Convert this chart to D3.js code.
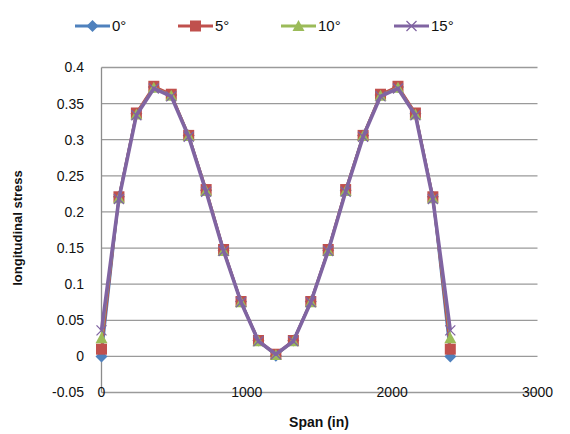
<!DOCTYPE html>
<html>
<head>
<meta charset="utf-8">
<script src="https://cdn.jsdelivr.net/npm/d3@7"></script>
<style>
  html, body { margin: 0; padding: 0; background: #fff; }
  svg { display: block; font-family: "Liberation Sans", "DejaVu Sans", sans-serif; }
</style>
</head>
<body>
<svg id="chart" width="570" height="434"></svg>
<script>
// Span positions along the member (in)
const span = [0, 120, 240, 360, 480, 600, 720, 840, 960, 1080, 1200,
              1320, 1440, 1560, 1680, 1800, 1920, 2040, 2160, 2280, 2400];

// Longitudinal stress for each skew angle
const stress0  = [0.000, 0.221, 0.336, 0.373, 0.362, 0.306, 0.230, 0.147, 0.076, 0.022, 0.001,
                  0.022, 0.076, 0.147, 0.230, 0.306, 0.362, 0.373, 0.336, 0.221, 0.000];
const stress5  = [0.010, 0.221, 0.337, 0.374, 0.363, 0.306, 0.231, 0.148, 0.076, 0.022, 0.003,
                  0.022, 0.076, 0.148, 0.231, 0.306, 0.363, 0.374, 0.337, 0.221, 0.010];
const stress10 = [0.025, 0.219, 0.335, 0.372, 0.361, 0.305, 0.229, 0.146, 0.075, 0.021, 0.002,
                  0.021, 0.075, 0.146, 0.229, 0.305, 0.361, 0.372, 0.335, 0.219, 0.025];
const stress15 = [0.036, 0.218, 0.334, 0.371, 0.360, 0.304, 0.228, 0.146, 0.075, 0.021, 0.003,
                  0.021, 0.075, 0.146, 0.228, 0.304, 0.360, 0.371, 0.334, 0.218, 0.036];

const seriesNames = ["0\u00B0", "5\u00B0", "10\u00B0", "15\u00B0"];
const seriesColors = ["#4F81BD", "#C0504D", "#9BBB59", "#8064A2"];
const seriesShapes = ["diamond", "square", "triangle", "cross"];
const seriesValues = [stress0, stress5, stress10, stress15];

const xTicks = [0, 1000, 2000, 3000];
const yTicks = [-0.05, 0, 0.05, 0.1, 0.15, 0.2, 0.25, 0.3, 0.35, 0.4];
const yTickLabels = ["-0.05", "0", "0.05", "0.1", "0.15", "0.2", "0.25", "0.3", "0.35", "0.4"];

const svg = d3.select("#chart");

const x = d3.scaleLinear().domain([0, 3000]).range([101.5, 537.5]);
const y = d3.scaleLinear().domain([-0.05, 0.4]).range([392.5, 67.5]);

// Horizontal gridlines
svg.append("g")
  .selectAll("line")
  .data(yTicks)
  .join("line")
  .attr("x1", x(0)).attr("x2", x(3000))
  .attr("y1", d => y(d)).attr("y2", d => y(d))
  .attr("stroke", "#9a9a9a")
  .attr("stroke-width", 1.3);

// Vertical axis line
svg.append("line")
  .attr("x1", x(0)).attr("x2", x(0))
  .attr("y1", y(0.4)).attr("y2", y(-0.05))
  .attr("stroke", "#8c8c8c").attr("stroke-width", 1.3);

// Y tick labels
svg.append("g")
  .selectAll("text")
  .data(yTicks)
  .join("text")
  .attr("x", 84)
  .attr("y", d => y(d))
  .attr("dy", "0.35em")
  .attr("text-anchor", "end")
  .attr("font-size", 14)
  .attr("fill", "#111")
  .text((d, i) => yTickLabels[i]);

// X tick labels (sitting on the bottom axis line)
svg.append("g")
  .selectAll("text")
  .data(xTicks)
  .join("text")
  .attr("x", d => x(d))
  .attr("y", y(-0.05))
  .attr("dy", "0.35em")
  .attr("text-anchor", "middle")
  .attr("font-size", 14)
  .attr("fill", "#111")
  .text(d => d);

// Axis titles
svg.append("text")
  .attr("x", 319).attr("y", 427)
  .attr("text-anchor", "middle")
  .attr("font-size", 14).attr("font-weight", "bold")
  .attr("fill", "#111")
  .text("Span (in)");

svg.append("text")
  .attr("transform", "translate(22,228) rotate(-90)")
  .attr("text-anchor", "middle")
  .attr("font-size", 13).attr("font-weight", "bold")
  .attr("fill", "#111")
  .text("longitudinal stress");

// Marker drawing
function drawMarker(g, shape, color, cx, cy) {
  if (shape === "diamond") {
    g.append("path")
      .attr("d", `M${cx},${cy - 6}L${cx + 6},${cy}L${cx},${cy + 6}L${cx - 6},${cy}Z`)
      .attr("fill", color);
  } else if (shape === "square") {
    g.append("rect")
      .attr("x", cx - 5.5).attr("y", cy - 5.5)
      .attr("width", 11).attr("height", 11)
      .attr("fill", color);
  } else if (shape === "triangle") {
    g.append("path")
      .attr("d", `M${cx},${cy - 6}L${cx + 6},${cy + 5}L${cx - 6},${cy + 5}Z`)
      .attr("fill", color);
  } else if (shape === "cross") {
    g.append("path")
      .attr("d", `M${cx - 5},${cy - 5}L${cx + 5},${cy + 5}M${cx - 5},${cy + 5}L${cx + 5},${cy - 5}`)
      .attr("stroke", color).attr("stroke-width", 1.3).attr("fill", "none");
  }
}

const line = d3.line()
  .x(d => x(d[0]))
  .y(d => y(d[1]));

// Series: line then markers, in order
seriesValues.forEach((vals, i) => {
  const pts = span.map((s, k) => [s, vals[k]]);
  const g = svg.append("g");
  g.append("path")
    .datum(pts)
    .attr("d", line)
    .attr("fill", "none")
    .attr("stroke", seriesColors[i])
    .attr("stroke-width", i === 3 ? 3.6 : 2.5)
    .attr("stroke-linejoin", "round");
  pts.forEach(p => drawMarker(g, seriesShapes[i], seriesColors[i], x(p[0]), y(p[1])));
});

// Legend
const legendX = [75, 178, 281, 394];
const legend = svg.append("g");
seriesNames.forEach((name, i) => {
  const lx = legendX[i], ly = 26;
  legend.append("line")
    .attr("x1", lx).attr("x2", lx + 35)
    .attr("y1", ly).attr("y2", ly)
    .attr("stroke", seriesColors[i]).attr("stroke-width", 3);
  drawMarker(legend, seriesShapes[i], seriesColors[i], lx + 17.5, ly);
  legend.append("text")
    .attr("x", lx + 37).attr("y", ly)
    .attr("dy", "0.35em")
    .attr("font-size", 15)
    .attr("fill", "#111")
    .text(name);
});
</script>
</body>
</html>
